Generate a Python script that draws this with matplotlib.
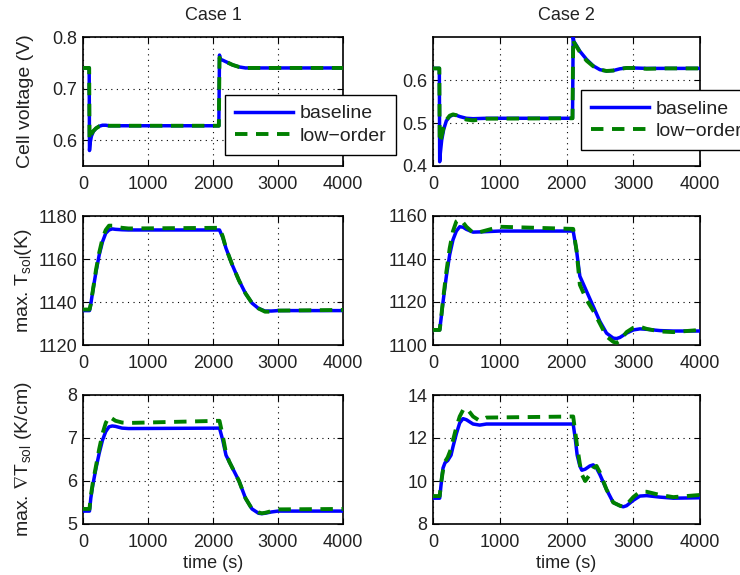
import matplotlib
matplotlib.use("Agg")
import matplotlib.pyplot as plt

plt.rcParams['font.family'] = ['Liberation Sans', 'DejaVu Sans']
plt.rcParams['mathtext.fontset'] = 'custom'
plt.rcParams['mathtext.rm'] = 'Liberation Sans'
plt.rcParams['mathtext.it'] = 'Liberation Sans:italic'
plt.rcParams['mathtext.fallback'] = 'stixsans'

# ---------------- data ----------------
# Case 1 cell voltage
t_v1 = [0, 95, 100, 110, 130, 160, 200, 250, 300, 350, 400, 500, 2090, 2100, 2110, 2150, 2200, 2300, 2400, 2500, 2600, 4000]
v1_base = [0.740, 0.740, 0.580, 0.595, 0.608, 0.617, 0.623, 0.627, 0.629, 0.629, 0.628, 0.628, 0.628, 0.765, 0.757, 0.755, 0.752, 0.746, 0.742, 0.740, 0.740, 0.740]
v1_low = [0.740, 0.740, 0.600, 0.605, 0.612, 0.618, 0.623, 0.627, 0.629, 0.629, 0.628, 0.628, 0.628, 0.760, 0.757, 0.755, 0.752, 0.746, 0.742, 0.740, 0.740, 0.740]

# Case 2 cell voltage
t_v2 = [0, 95, 100, 110, 130, 160, 200, 250, 300, 350, 400, 500, 600, 800, 2090, 2100, 2110, 2150, 2200, 2300, 2400, 2500, 2600, 2700, 2800, 2900, 3000, 3200, 3500, 4000]
v2_base = [0.627, 0.627, 0.410, 0.430, 0.460, 0.485, 0.505, 0.515, 0.519, 0.518, 0.515, 0.511, 0.510, 0.511, 0.511, 0.700, 0.690, 0.680, 0.667, 0.648, 0.633, 0.624, 0.621, 0.622, 0.626, 0.628, 0.628, 0.627, 0.627, 0.627]
v2_low = [0.627, 0.627, 0.455, 0.455, 0.470, 0.490, 0.507, 0.517, 0.520, 0.518, 0.513, 0.508, 0.506, 0.510, 0.511, 0.695, 0.688, 0.678, 0.665, 0.645, 0.632, 0.624, 0.621, 0.622, 0.626, 0.628, 0.628, 0.626, 0.627, 0.627]

# Case 1 max solid temperature
t_T1 = [0, 100, 120, 150, 200, 250, 300, 350, 400, 450, 500, 600, 700, 2100, 2150, 2200, 2300, 2400, 2500, 2600, 2700, 2800, 2900, 3000, 4000]
T1_base = [1136, 1136, 1139, 1145, 1154, 1162, 1168, 1172, 1173.5, 1174, 1173.8, 1173.6, 1173.5, 1173.5, 1170, 1165, 1157, 1150, 1144, 1139.5, 1137, 1135.8, 1135.8, 1136, 1136]
T1_low = [1136.5, 1136.5, 1139, 1145, 1155, 1163, 1169.5, 1173.5, 1175.5, 1175.5, 1175, 1174.5, 1174.2, 1174.5, 1170.5, 1165, 1157, 1150, 1144, 1139.5, 1137, 1135.5, 1135.5, 1136, 1136.3]

# Case 2 max solid temperature
t_T2 = [0, 100, 120, 150, 200, 250, 300, 350, 400, 450, 500, 600, 700, 1000, 2100, 2150, 2200, 2300, 2400, 2500, 2600, 2700, 2750, 2800, 2900, 3000, 3100, 3200, 3400, 3600, 4000]
T2_base = [1107, 1107, 1112, 1120, 1132, 1142, 1149, 1153, 1155, 1154.8, 1153.8, 1152.5, 1152.6, 1153, 1153, 1144, 1132, 1125, 1118, 1111, 1105.5, 1103.2, 1103, 1103.5, 1105.5, 1107, 1107.5, 1107.3, 1106.7, 1106.5, 1106.5]
T2_low = [1107, 1107, 1112, 1121, 1134, 1145, 1153, 1157.5, 1158.5, 1157, 1155, 1152.2, 1152.5, 1155, 1154, 1144, 1128, 1121, 1116, 1110, 1104, 1101.5, 1101, 1102, 1106, 1108, 1108.5, 1107.5, 1106.3, 1106, 1107]

# Case 1 max temperature gradient
t_G1 = [0, 100, 120, 150, 200, 250, 300, 350, 400, 450, 500, 600, 700, 2100, 2150, 2200, 2250, 2300, 2400, 2500, 2600, 2700, 2750, 2800, 2900, 3000, 4000]
G1_base = [5.3, 5.3, 5.6, 5.9, 6.3, 6.65, 6.95, 7.15, 7.26, 7.28, 7.27, 7.23, 7.22, 7.23, 6.95, 6.6, 6.45, 6.3, 6.0, 5.6, 5.35, 5.25, 5.24, 5.25, 5.28, 5.30, 5.30]
G1_low = [5.35, 5.35, 5.65, 5.95, 6.35, 6.75, 7.1, 7.35, 7.5, 7.45, 7.40, 7.36, 7.35, 7.40, 7.05, 6.65, 6.45, 6.3, 6.0, 5.6, 5.35, 5.27, 5.25, 5.26, 5.30, 5.34, 5.35]

# Case 2 max temperature gradient
t_G2 = [0, 100, 120, 150, 180, 220, 270, 300, 350, 400, 450, 500, 550, 600, 700, 800, 2100, 2130, 2160, 2200, 2230, 2280, 2350, 2400, 2450, 2500, 2600, 2700, 2800, 2850, 2900, 3000, 3100, 3200, 3400, 3600, 4000]
G2_base = [9.2, 9.2, 9.8, 10.6, 10.85, 10.95, 11.2, 11.6, 12.2, 12.7, 12.9, 12.85, 12.75, 12.65, 12.6, 12.65, 12.65, 12.0, 11.2, 10.7, 10.5, 10.55, 10.7, 10.75, 10.6, 10.3, 9.6, 9.0, 8.85, 8.8, 8.85, 9.1, 9.3, 9.32, 9.25, 9.2, 9.22]
G2_low = [9.3, 9.3, 9.9, 10.5, 10.9, 11.1, 11.5, 11.9, 12.5, 13.0, 13.3, 13.4, 13.2, 13.0, 12.8, 12.95, 13.0, 12.3, 11.6, 10.8, 10.3, 10.0, 10.3, 10.6, 10.7, 10.4, 9.6, 9.0, 8.85, 8.8, 8.9, 9.25, 9.5, 9.5, 9.35, 9.25, 9.35]

x_ticks = [0, 1000, 2000, 3000, 4000]
col_titles = ["Case 1", "Case 2"]
series_labels = ["baseline", "low\u2212order"]
y_labels = ["Cell voltage (V)", r"max. T$_{\mathrm{sol}}$(K)", r"max. $\nabla$T$_{\mathrm{sol}}$ (K/cm)"]

# ---------------- figure ----------------
W, H = 740, 575
fig = plt.figure(figsize=(W / 100, H / 100), dpi=100)

def px_axes(x0, y0, x1, y1):
    return fig.add_axes([x0 / W, 1 - y1 / H, (x1 - x0) / W, (y1 - y0) / H])

cols = [(83, 343), (433, 700)]
rows = [(37, 166), (216, 345), (395, 524)]

panels = [
    [(t_v1, v1_base, v1_low, (0.55, 0.8), [0.6, 0.7, 0.8]),
     (t_v2, v2_base, v2_low, (0.4, 0.7), [0.4, 0.5, 0.6])],
    [(t_T1, T1_base, T1_low, (1120, 1180), [1120, 1140, 1160, 1180]),
     (t_T2, T2_base, T2_low, (1100, 1160), [1100, 1120, 1140, 1160])],
    [(t_G1, G1_base, G1_low, (5, 8), [5, 6, 7, 8]),
     (t_G2, G2_base, G2_low, (8, 14), [8, 10, 12, 14])],
]

fs = 13
txt_color = '#222222'
for r, (y0, y1) in enumerate(rows):
    for c, (x0, x1) in enumerate(cols):
        ax = px_axes(x0, y0, x1, y1)
        t, yb, yl, ylim, yt = panels[r][c]
        ax.plot(t, yb, color=(0, 0, 1), lw=2.5, label=series_labels[0], zorder=3)
        ax.plot(t, yl, color=(0, 0.5, 0), lw=2.8, ls=(0, (3.2, 2.2)), label=series_labels[1], zorder=4)
        ax.set_xlim(0, 4000)
        ax.set_ylim(*ylim)
        ax.set_xticks(x_ticks)
        ax.set_yticks(yt)
        ax.tick_params(direction='in', length=4, width=0.8, labelsize=fs,
                       top=True, right=True, colors='black', labelcolor=txt_color)
        ax.tick_params(axis='x', pad=7)
        ax.tick_params(axis='y', pad=4)
        ax.grid(True, color='black', linestyle=(0, (1, 4)), linewidth=0.8)
        for s in ax.spines.values():
            s.set_linewidth(1.2)
        if r == 0:
            ax.set_title(col_titles[c], fontsize=fs, color=txt_color, pad=12)
            bx = 0.546 if c == 0 else 0.554
            by = 0.55 if c == 0 else 0.586
            leg = ax.legend(loc='upper left', bbox_to_anchor=(bx, by), fontsize=14,
                            frameon=True, fancybox=False, framealpha=1, edgecolor='black',
                            borderpad=0.5, handlelength=3.0, handletextpad=0.35,
                            labelspacing=0.25, borderaxespad=0)
            leg.get_frame().set_linewidth(1.0)
            for txt in leg.get_texts():
                txt.set_color(txt_color)
        if r == 2:
            ax.set_xlabel("time (s)", fontsize=fs, color=txt_color, labelpad=3)
        if c == 0:
            ax.set_ylabel(y_labels[r], fontsize=14, color=txt_color)
            ax.yaxis.set_label_coords(-0.19, 0.5)

fig.savefig("out.png", dpi=100)
